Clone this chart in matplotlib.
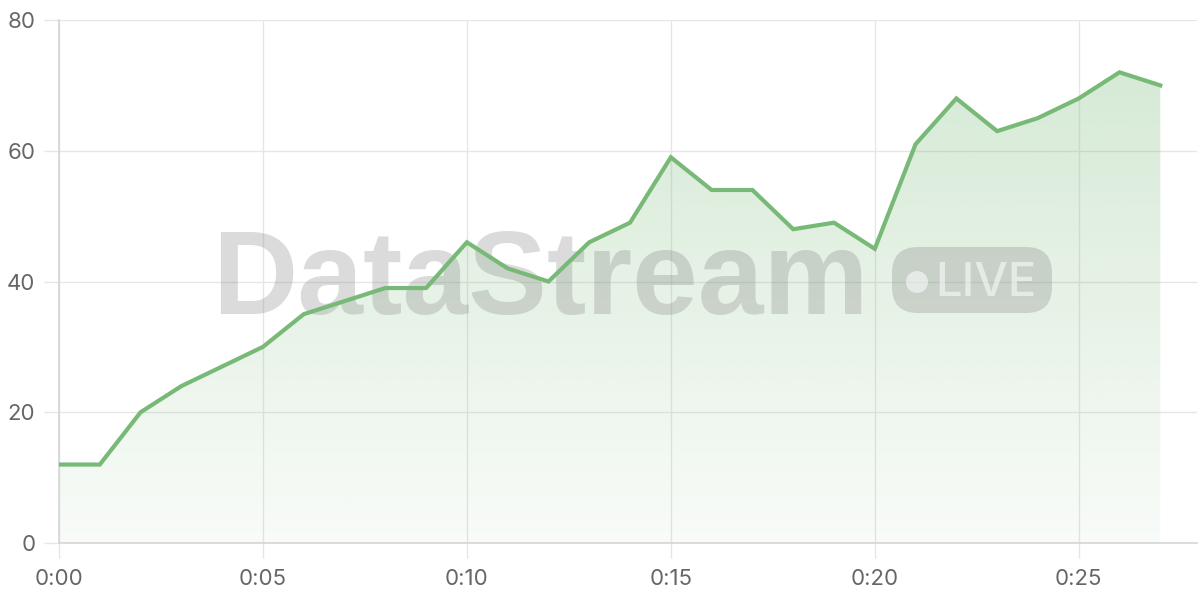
import numpy as np
import matplotlib
matplotlib.use("Agg")
import matplotlib.pyplot as plt
from matplotlib.patches import FancyBboxPatch, Circle
from matplotlib.transforms import Affine2D

# minutes since start and value at each minute
minutes = list(range(28))
values = [12, 12, 20, 24, 27, 30, 35, 37, 39, 39, 46, 42, 40, 46, 49,
          59, 54, 54, 48, 49, 45, 61, 68, 63, 65, 68, 72, 70]
x_ticks = [0, 5, 10, 15, 20, 25]
x_labels = ["0:00", "0:05", "0:10", "0:15", "0:20", "0:25"]
y_ticks = [0, 20, 40, 60, 80]

LINE_COLOR = "#78b978"
GRID_COLOR = "#e6e6e6"
TEXT_COLOR = "#666666"

W, H = 1200, 600
plt.rcParams['font.family'] = ['Inter', 'DejaVu Sans']
fig = plt.figure(figsize=(W / 100, H / 100), dpi=100, facecolor="white")
ax = fig.add_axes([59 / W, 57 / H, (1197 - 59) / W, (543 - 20) / H])

ax.set_xlim(0, 27.9)
ax.set_ylim(0, 80)

# gradient fill under the line
grad = np.zeros((256, 1, 4))
rgb = matplotlib.colors.to_rgb(LINE_COLOR)
grad[:, 0, 0:3] = rgb
grad[:, 0, 3] = np.linspace(0.33, 0.05, 256)
poly = ax.fill_between(minutes, values, 0, color="none", lw=0)
img = ax.imshow(grad, aspect="auto", extent=[0, 27.9, 0, 80], origin="upper",
                zorder=1, interpolation="bilinear")
img.set_clip_path(poly.get_paths()[0], transform=ax.transData)

ax.plot(minutes, values, color=LINE_COLOR, lw=3, zorder=5, solid_joinstyle="miter")

# grid and axes styling
ax.set_xticks(x_ticks)
ax.set_xticklabels(x_labels)
ax.set_yticks(y_ticks)
ax.grid(True, color=GRID_COLOR, lw=1, zorder=0)
ax.set_axisbelow(True)
for side in ["top", "right"]:
  ax.spines[side].set_visible(False)
for side in ["left", "bottom"]:
  ax.spines[side].set_color("#d5d5d5")
  ax.spines[side].set_linewidth(1.2)
ax.tick_params(axis="both", colors=GRID_COLOR, length=11, width=1,
               labelcolor=TEXT_COLOR, labelsize=16)
ax.tick_params(axis="y", pad=6)
ax.tick_params(axis="x", pad=8)

# watermark, in pixel coordinates of the figure
px = Affine2D().scale(1 / W, -1 / H).translate(0, 1) + fig.transFigure
ax.text(540, 314, "DataStream", transform=px, ha="center", va="baseline",
        fontsize=85, fontweight="bold", family="Liberation Sans",
        color="#888888", alpha=0.3, zorder=3, clip_on=False)
badge = FancyBboxPatch((892, 247), 160, 66, boxstyle="round,pad=0,rounding_size=26",
                       transform=px, facecolor="#888888", edgecolor="none",
                       alpha=0.3, zorder=3, clip_on=False)
ax.add_patch(badge)
ax.add_patch(Circle((917, 282), 11, transform=px, facecolor="white",
                    alpha=0.55, zorder=4, clip_on=False))
ax.text(986, 296, "LIVE", transform=px, ha="center", va="baseline",
        fontsize=34, fontweight="medium", color="white", alpha=0.55,
        zorder=4, clip_on=False)

fig.savefig("out.png", dpi=100)
